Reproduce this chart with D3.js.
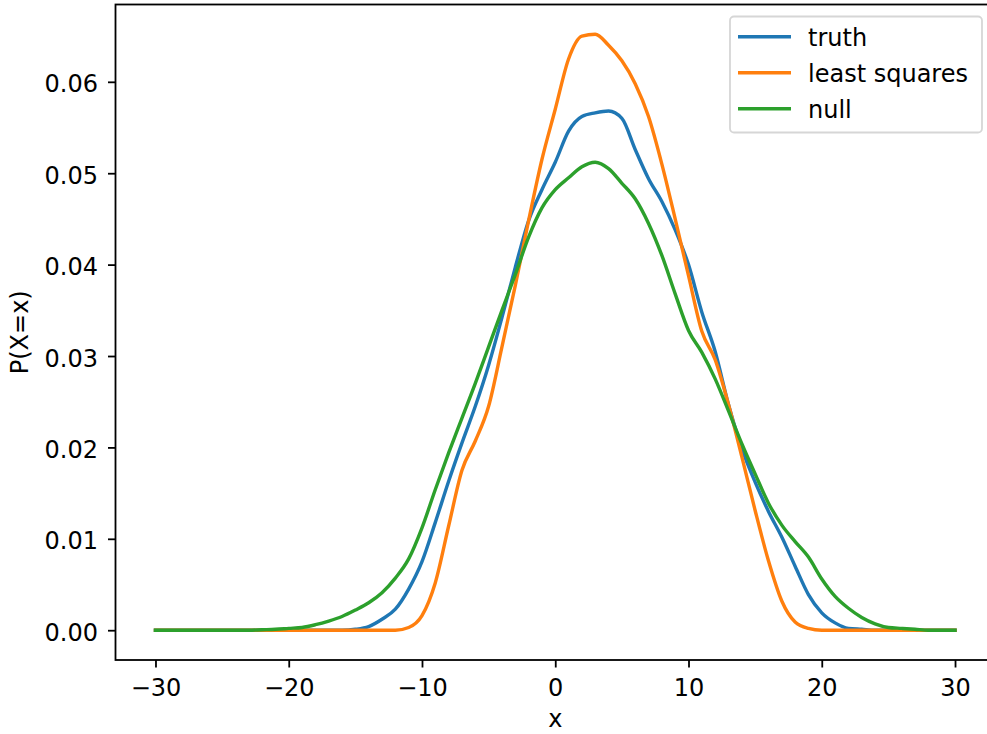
<!DOCTYPE html>
<html>
<head>
<meta charset="utf-8">
<script src="https://cdn.jsdelivr.net/npm/d3@7"></script>
<style>
  html, body { margin: 0; padding: 0; background: #fff; }
  svg { display: block; font-family: "DejaVu Sans", sans-serif; }
</style>
</head>
<body>
<svg id="chart" width="987" height="734"></svg>
<script>
// ---- data ----
const xs = d3.range(-30, 31, 1);

const truth = [
  0,0,0,0,0,0,0,0,0,0,0,0,0,0,0,          // -30 .. -16
  0.0001,0.0004,0.0012,0.0023,0.0045,     // -15 .. -11
  0.0075,0.0118,0.0163,0.0205,0.0245,     // -10 .. -6
  0.0290,0.0342,0.0397,0.0448,0.0482,     // -5 .. -1
  0.0512,0.0546,0.0562,0.0566,0.0568,     // 0 .. 4
  0.0560,0.0526,0.0494,0.0469,0.0438,     // 5 .. 9
  0.0400,0.0348,0.0305,0.0247,0.0199,     // 10 .. 14
  0.0162,0.0130,0.0102,0.0070,0.0039,     // 15 .. 19
  0.0019,0.0008,0.0002,0.0001,0,          // 20 .. 24
  0,0,0,0,0,0                             // 25 .. 30
];

const leastSquares = [
  0,0,0,0,0,0,0,0,0,0,0,0,0,0,0,0,0,0,0,  // -30 .. -12
  0.0003,0.0016,0.0052,0.0114,0.0175,     // -11 .. -7
  0.0207,0.0245,0.0310,0.0377,0.0448,     // -6 .. -2
  0.0515,0.0570,0.0625,0.0650,0.0652,     // -1 .. 3
  0.0640,0.0623,0.0598,0.0562,0.0510,     // 4 .. 8
  0.0450,0.0388,0.0327,0.0296,0.0247,     // 9 .. 13
  0.0190,0.0131,0.0076,0.0032,0.0009,     // 14 .. 18
  0.0002,0,0,0,0,0,0,0,0,0,0,0            // 19 .. 30
];

const nullModel = [
  0,0,0,0,0,0,0,0,0.00005,                // -30 .. -22
  0.0001,0.0002,0.0003,0.0006,0.0010,     // -21 .. -17
  0.0015,0.0022,0.0030,0.0041,0.0057,     // -16 .. -12
  0.0078,0.0112,0.0154,0.0194,0.0232,     // -11 .. -7
  0.0270,0.0310,0.0350,0.0389,0.0430,     // -6 .. -2
  0.0462,0.0482,0.0495,0.0507,0.0512,     // -1 .. 3
  0.0505,0.0489,0.0472,0.0445,0.0410,     // 4 .. 8
  0.0368,0.0328,0.0304,0.0275,0.0240,     // 9 .. 13
  0.0204,0.0171,0.0139,0.0115,0.0097,     // 14 .. 18
  0.0080,0.0056,0.0037,0.0024,0.0014,     // 19 .. 23
  0.0007,0.0003,0.0002,0.0001,0,0,0       // 24 .. 30
];

const seriesNames = ["truth", "least squares", "null"];
const seriesColors = ["#1f77b4", "#ff7f0e", "#2ca02c"];
const seriesValues = [truth, leastSquares, nullModel];

const xTicks = [-30, -20, -10, 0, 10, 20, 30];
const yTicks = [0, 0.01, 0.02, 0.03, 0.04, 0.05, 0.06];

// ---- layout ----
const svg = d3.select("#chart");
const L = 115.5, R = 995, T = 4.5, B = 660;
const yMax = d3.max(seriesValues.flat());
const pad = yMax * 0.05;

const x = d3.scaleLinear().domain([-33, 33]).range([L, R]);
const y = d3.scaleLinear().domain([-pad, yMax + pad]).range([B, T]);

const fontSize = 24;

// lines
const line = d3.line()
  .x((d, i) => x(xs[i]))
  .y(d => y(d))
  .curve(d3.curveMonotoneX);

svg.append("g").selectAll("path")
  .data(seriesValues)
  .join("path")
  .attr("d", d => line(d))
  .attr("fill", "none")
  .attr("stroke", (d, i) => seriesColors[i])
  .attr("stroke-width", 3.4)
  .attr("stroke-linejoin", "round")
  .attr("stroke-linecap", "square");

// axes
const xAxis = d3.axisBottom(x).tickValues(xTicks)
  .tickFormat(d => d < 0 ? "\u2212" + Math.abs(d) : String(d))
  .tickSize(7.5).tickPadding(11.5);
const yAxis = d3.axisLeft(y).tickValues(yTicks)
  .tickFormat(d3.format(".2f"))
  .tickSize(7.5).tickPadding(10);

const gx = svg.append("g").attr("transform", `translate(0,${B})`).call(xAxis);
const gy = svg.append("g").attr("transform", `translate(${L},0)`).call(yAxis);
[gx, gy].forEach(g => {
  g.select(".domain").remove();
  g.selectAll(".tick line").attr("stroke", "#000").attr("stroke-width", 1.8);
  g.selectAll(".tick text").attr("fill", "#000")
    .style("font-family", "'DejaVu Sans', sans-serif")
    .style("font-size", fontSize + "px");
});
gy.selectAll(".tick text").attr("dy", "0.42em");

// spines
svg.append("rect")
  .attr("x", L).attr("y", T)
  .attr("width", R - L).attr("height", B - T)
  .attr("fill", "none").attr("stroke", "#000").attr("stroke-width", 1.8);

// axis labels
svg.append("text")
  .attr("x", (L + R) / 2).attr("y", 727)
  .attr("text-anchor", "middle")
  .style("font-size", fontSize + "px")
  .text("x");

svg.append("text")
  .attr("transform", `translate(28,${(T + B) / 2}) rotate(-90)`)
  .attr("text-anchor", "middle")
  .style("font-size", fontSize + "px")
  .text("P(X=x)");

// legend
const lg = svg.append("g");
lg.append("rect")
  .attr("x", 730).attr("y", 16.5)
  .attr("width", 252).attr("height", 116)
  .attr("rx", 4).attr("ry", 4)
  .attr("fill", "rgba(255,255,255,0.8)")
  .attr("stroke", "#d6d6d6").attr("stroke-width", 1.8);

seriesNames.forEach((name, i) => {
  const cy = 36.7 + i * 36;
  lg.append("line")
    .attr("x1", 738).attr("x2", 791)
    .attr("y1", cy).attr("y2", cy)
    .attr("stroke", seriesColors[i]).attr("stroke-width", 3.4);
  lg.append("text")
    .attr("x", 808).attr("y", cy)
    .attr("dy", "0.37em")
    .style("font-size", fontSize + "px")
    .text(name);
});
</script>
</body>
</html>
